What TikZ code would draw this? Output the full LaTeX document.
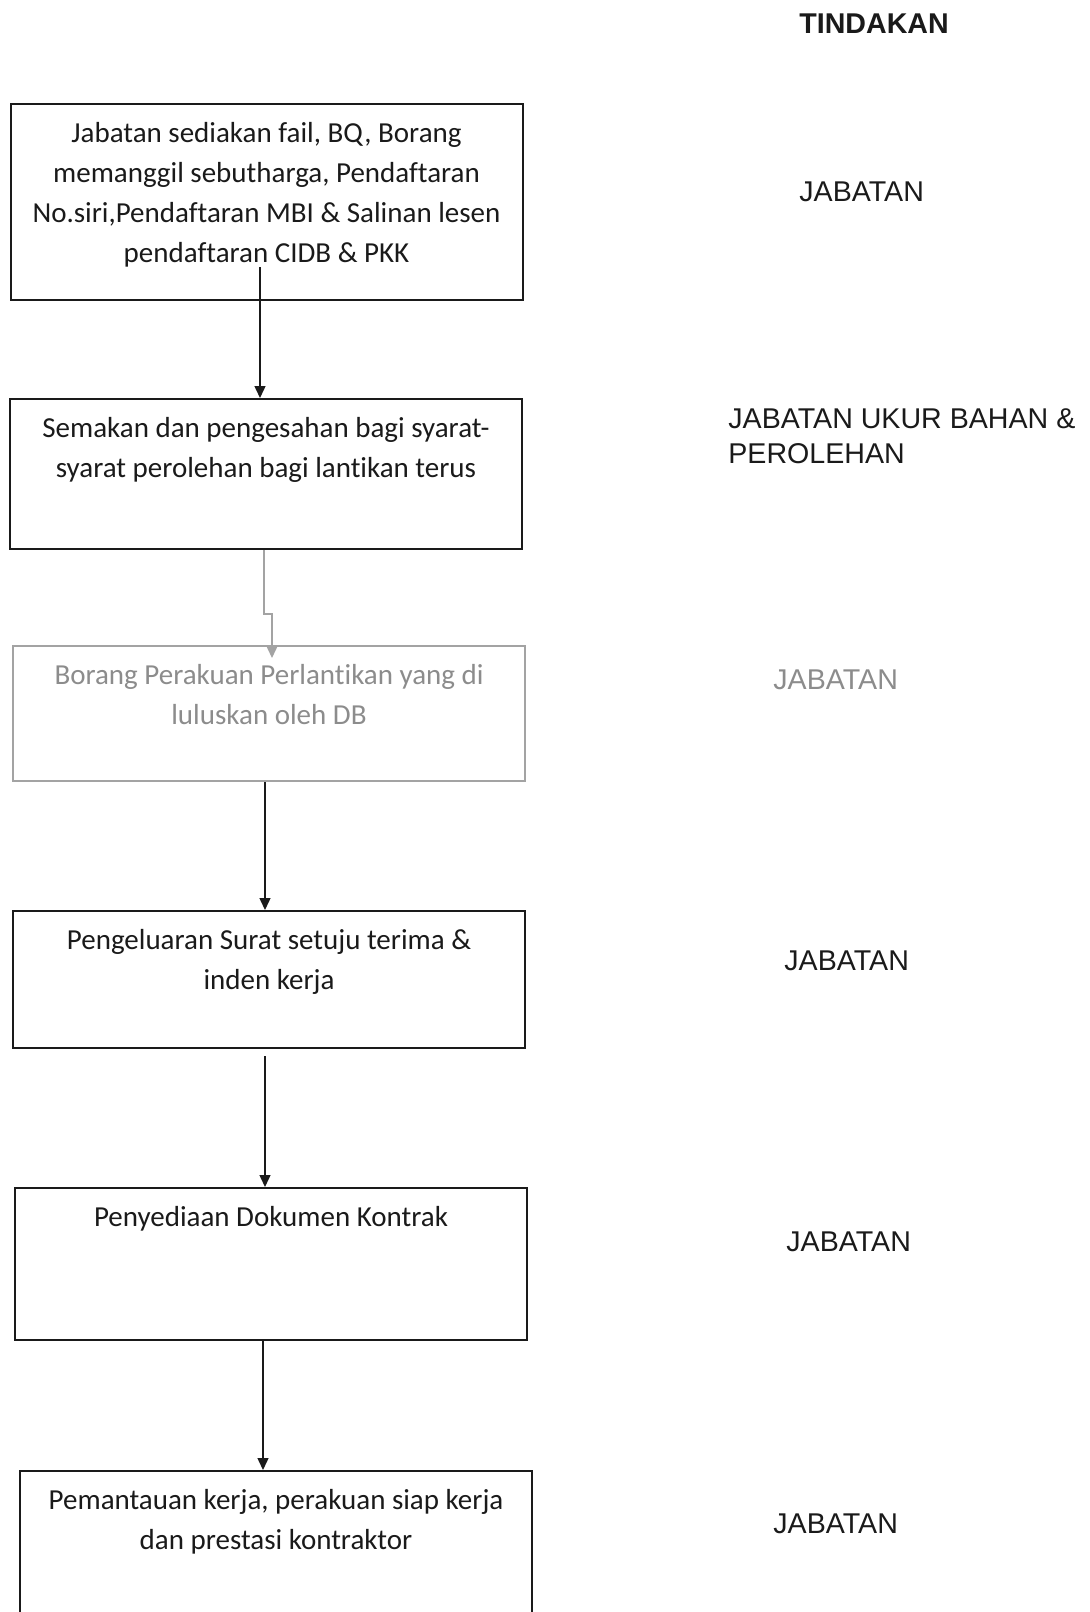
\documentclass[tikz,border=0pt]{standalone}
\usepackage{fontspec}
\setmainfont{Carlito}[Ligatures=NoCommon]
\newfontfamily\arialfont{Liberation Sans}
\usetikzlibrary{arrows.meta,positioning}
\definecolor{ink}{HTML}{1A1A1A}
\definecolor{faded}{HTML}{8C8C8C}
\definecolor{fadedline}{HTML}{A3A3A3}
\newcommand{\steptext}[2]{\parbox[c][#1][t]{256pt}{\centering\rule{0pt}{19pt}#2}}

\begin{document}
\begin{tikzpicture}[
  x=0.5pt,
  y=-0.5pt,
  >={Triangle[length=6pt,width=5.5pt]},
  stepbox/.style={draw=ink, line width=1pt, inner sep=0pt, anchor=north,
                  font=\fontsize{14.5}{20}\selectfont, text=ink},
  fadedbox/.style={stepbox, draw=fadedline, text=faded},
  flow/.style={->, line width=0.7pt, draw=ink},
  fadedflow/.style={flow, draw=fadedline},
  who/.style={anchor=base west, inner sep=0pt, align=left,
              font=\arialfont\fontsize{14.3}{17.5}\selectfont, text=ink},
]
\useasboundingbox (0,0) rectangle (1090,1612);
\clip (0,0) rectangle (1090,1612);

% Steps of the procedure, top to bottom.
\node[stepbox] (fail) at (266.5,103) {\steptext{98pt}{Jabatan sediakan fail, BQ, Borang\\
  memanggil sebutharga, Pendaftaran\\
  No.siri,Pendaftaran MBI \& Salinan lesen\\
  pendaftaran CIDB \& PKK}};
\node[stepbox] (semakan) at (266,398) {\steptext{75pt}{Semakan dan pengesahan bagi syarat-\\
  syarat perolehan bagi lantikan terus}};
\node[fadedbox] (perakuan) at (269,645) {\steptext{67.5pt}{Borang Perakuan Perlantikan yang di\\
  luluskan oleh DB}};
\node[stepbox] (surat) at (269,910) {\steptext{68.5pt}{Pengeluaran Surat setuju terima \&\\
  inden kerja}};
\node[stepbox] (kontrak) at (271,1187) {\steptext{76pt}{Penyediaan Dokumen Kontrak}};
\node[stepbox] (pantau) at (276,1470) {\steptext{90pt}{Pemantauan kerja, perakuan siap kerja\\
  dan prestasi kontraktor}};

\draw[flow] ([xshift=-3.25pt,yshift=17pt]fail.south) -- ([xshift=-3pt]semakan.north);
\draw[fadedflow] ([xshift=-1pt]semakan.south) -- ++(0,64) -- ++(8,0)
  -- ([xshift=1.5pt,yshift=-6.5pt]perakuan.north);
\draw[flow] ([xshift=-2pt]perakuan.south) -- ([xshift=-2pt]surat.north);
\draw[flow] ([xshift=-2pt,yshift=-3.5pt]surat.south) -- ([xshift=-3pt]kontrak.north);
\draw[flow] ([xshift=-4pt]kontrak.south) -- ([xshift=-6.5pt]pantau.north);

% Who acts at each step.
\node[who, font=\arialfont\bfseries\fontsize{14.3}{17.5}\selectfont] (tindakan) at (799,33) {TINDAKAN};
\node[who] (who1) at (799,201) {JABATAN};
\node[who] (who2) at (728,463) {JABATAN UKUR BAHAN \&\\PEROLEHAN};
\node[who, text=faded] (who3) at (773,689) {JABATAN};
\node[who] (who4) at (784,970) {JABATAN};
\node[who] (who5) at (786,1251) {JABATAN};
\node[who] (who6) at (773,1533) {JABATAN};

\end{tikzpicture}
\end{document}
